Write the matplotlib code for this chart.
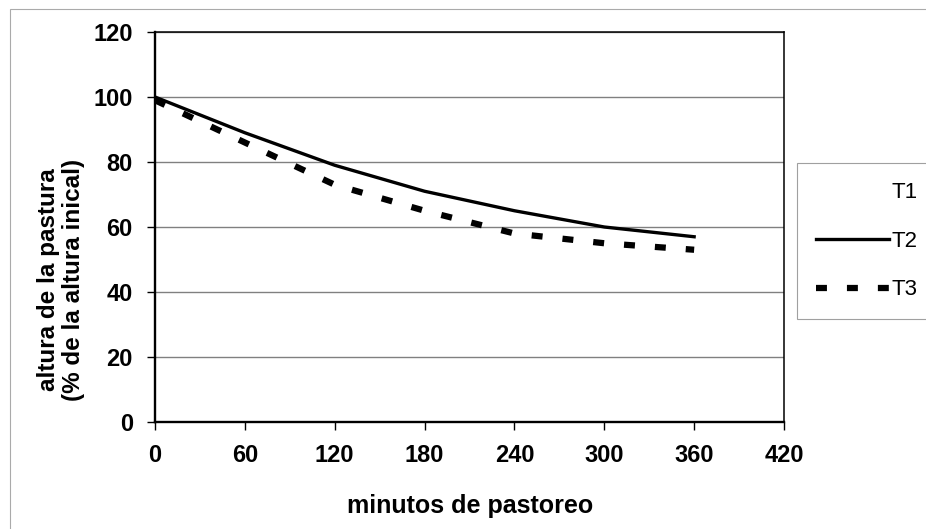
import matplotlib
matplotlib.use("Agg")
import matplotlib.pyplot as plt
from matplotlib.patches import Rectangle

plt.rcParams["font.family"] = ["Liberation Sans", "DejaVu Sans"]

# ─── Données ────────────────────────────────────────────────────────────────
minutos = [0, 60, 120, 180, 240, 300, 360]
t1 = []                                  # série non visible dans l'original
t2 = [100, 89, 79, 71, 65, 60, 57]
t3 = [99, 86, 73, 65, 58, 55, 53]
x_ticks = [0, 60, 120, 180, 240, 300, 360, 420]
y_ticks = [0, 20, 40, 60, 80, 100, 120]

W, H = 926, 529
fig = plt.figure(figsize=(W / 100, H / 100), dpi=100)
fig.patch.set_facecolor("white")

# cadre extérieur du graphique
fig.patches.append(Rectangle((10 / W, -0.02), 1.05, (H - 9) / H + 0.02,
                             transform=fig.transFigure, fill=False,
                             edgecolor="#aaaaaa", lw=0.8))

ax = fig.add_axes([155 / W, (H - 422) / H, 629 / W, 390 / H])

ax.plot(t1, t1, color="white", lw=2.4, label="T1")
ax.plot(minutos, t2, color="black", lw=2.4, label="T2", zorder=3)
ax.plot(minutos, t3, color="black", lw=4.5, linestyle=(0, (1.75, 3.2)),
        label="T3", zorder=3)

ax.set_xlim(0, 420)
ax.set_ylim(0, 120)
ax.set_xticks(x_ticks)
ax.set_yticks(y_ticks)
ax.grid(True, axis="y", color="#808080", lw=1.0)
ax.set_axisbelow(True)

for side, s in ax.spines.items():
    s.set_color("black")
    s.set_linewidth(1.7 if side in ("left", "bottom") else 1.1)

ax.tick_params(axis="both", direction="out", length=6, width=1,
               labelsize=17, pad=10)
for lbl in ax.get_xticklabels() + ax.get_yticklabels():
    lbl.set_fontweight("bold")

fig.text(470 / W, 1 - 513 / H, "minutos de pastoreo", fontsize=18,
         fontweight="bold", ha="center", va="baseline")
fig.text(61 / W, 1 - 280 / H, "altura de la pastura\n(% de la altura inical)",
         fontsize=17.5, fontweight="bold", rotation=90, ha="center",
         va="center", multialignment="center", linespacing=1.15)

leg = ax.legend(loc="upper left", bbox_to_anchor=(797 / W, (H - 163) / H),
                bbox_transform=fig.transFigure, frameon=True, fancybox=False,
                fontsize=16, handlelength=3.3, handletextpad=0.1,
                labelspacing=1.25, borderpad=0.85, borderaxespad=0)
leg.get_frame().set_edgecolor("#888888")
leg.get_frame().set_linewidth(0.8)

fig.savefig("out.png", dpi=100, facecolor="white")
